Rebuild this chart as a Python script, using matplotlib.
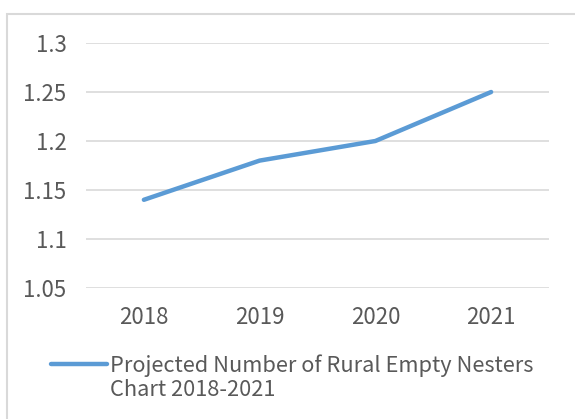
import matplotlib.pyplot as plt
from matplotlib.patches import Rectangle
from matplotlib.legend_handler import HandlerLine2D

years = ['2018', '2019', '2020', '2021']
values = [1.14, 1.18, 1.20, 1.25]
yticks = [1.05, 1.1, 1.15, 1.2, 1.25, 1.3]
ytick_labels = ['1.05', '1.1', '1.15', '1.2', '1.25', '1.3']
series_name = 'Projected Number of Rural Empty Nesters\nChart 2018-2021'

plt.rcParams['font.family'] = ['Noto Sans CJK SC', 'DejaVu Sans']
plt.rcParams['font.weight'] = 'light'


# keep the legend line level with the first text line
class TopHandler(HandlerLine2D):
    def create_artists(self, legend, orig_handle, xdescent, ydescent,
                       width, height, fontsize, trans):
        arts = super().create_artists(legend, orig_handle, xdescent, ydescent,
                                      width, height, fontsize, trans)
        for a in arts:
            a.set_ydata([y + fontsize * 0.65 for y in a.get_ydata()])
        return arts


fig = plt.figure(figsize=(5.75, 4.19), dpi=100)
fig.patches.append(Rectangle((7 / 575, -0.1), 1.2, 1 - 14 / 419 + 0.1,
                             transform=fig.transFigure, fill=False,
                             edgecolor='#D9D9D9', linewidth=1.5))

ax = fig.add_axes([86 / 575, 1 - 288 / 419, (549 - 86) / 575, (288 - 43) / 419])
x = range(len(years))
line, = ax.plot(x, values, color='#5B9BD5', linewidth=3.2, solid_capstyle='round')
ax.set_xlim(-0.5, len(years) - 0.5)
ax.set_ylim(1.05, 1.3)
ax.set_xticks(list(x))
ax.set_xticklabels(years)
ax.set_yticks(yticks)
ax.set_yticklabels(ytick_labels)
ax.grid(axis='y', color='#D9D9D9', linewidth=1.2)
ax.set_axisbelow(True)
for s in ax.spines.values():
    s.set_visible(False)
ax.tick_params(length=0, labelsize=16, labelcolor='#595959')
ax.tick_params(axis='y', pad=14)
ax.tick_params(axis='x', pad=13)

leg = fig.legend([line], [series_name], loc='upper left',
                 bbox_to_anchor=(31 / 575, 1 - 335 / 419), frameon=False,
                 fontsize=15.7, handlelength=2.6, handletextpad=0.13,
                 labelcolor='#595959', handler_map={line: TopHandler()})
for t in leg.get_texts():
    t.set_linespacing(1.1)

fig.savefig('out.png', dpi=100)
